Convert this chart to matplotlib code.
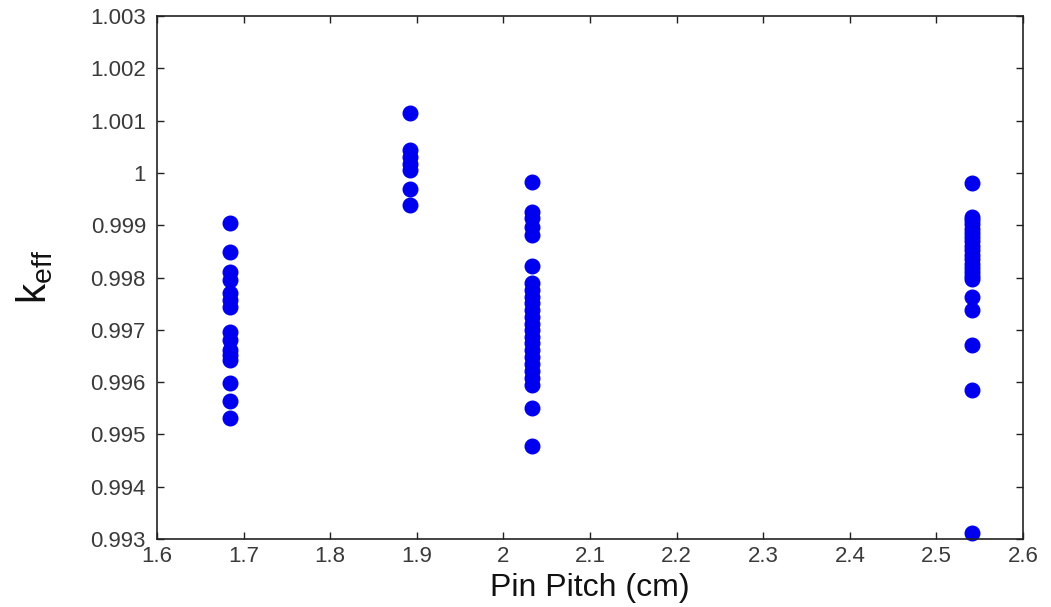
import matplotlib
matplotlib.use("Agg")
import matplotlib.pyplot as plt

plt.rcParams['font.family'] = ['Liberation Sans', 'DejaVu Sans']
plt.rcParams['mathtext.fontset'] = 'custom'
plt.rcParams['mathtext.rm'] = 'Liberation Sans'

pitch_a = 1.684
keff_a = [0.99905, 0.99849, 0.99811, 0.99795, 0.99770, 0.99757, 0.99744,
          0.99696, 0.99680, 0.99661, 0.99652, 0.99642, 0.99598, 0.99563, 0.99531]

pitch_b = 1.892
keff_b = [1.00114, 1.00044, 1.00031, 1.00018, 1.00006, 0.99970, 0.99939]

pitch_c = 2.033
keff_c = [0.99983, 0.99925, 0.99913, 0.99897, 0.99881, 0.99822,
          0.99789, 0.99776, 0.99763, 0.99751, 0.99738, 0.99725, 0.99712, 0.99700,
          0.99687, 0.99674, 0.99661, 0.99648, 0.99635, 0.99622, 0.99607, 0.99594,
          0.99550, 0.99477]

pitch_d = 2.541
keff_d = [0.99981, 0.99916, 0.99910, 0.99902, 0.99893, 0.99885, 0.99877, 0.99869,
          0.99860, 0.99852, 0.99843, 0.99835, 0.99826, 0.99818, 0.99810, 0.99803,
          0.99797, 0.99763, 0.99738, 0.99671, 0.99585, 0.99311]

xticks = [1.6, 1.7, 1.8, 1.9, 2.0, 2.1, 2.2, 2.3, 2.4, 2.5, 2.6]
xticklabels = ['1.6', '1.7', '1.8', '1.9', '2', '2.1', '2.2', '2.3', '2.4', '2.5', '2.6']
yticks = [0.993, 0.994, 0.995, 0.996, 0.997, 0.998, 0.999, 1.000, 1.001, 1.002, 1.003]
yticklabels = ['0.993', '0.994', '0.995', '0.996', '0.997', '0.998', '0.999', '1',
               '1.001', '1.002', '1.003']

fig = plt.figure(figsize=(10.51, 6.07), dpi=100)
ax = fig.add_axes([0.1494, 0.112, 0.824, 0.8616])

for p, ks in [(pitch_a, keff_a), (pitch_b, keff_b), (pitch_c, keff_c), (pitch_d, keff_d)]:
    ax.plot([p] * len(ks), ks, linestyle='none', marker='o', markersize=10.5,
            color='#0000ee', markeredgecolor='#0000ee', clip_on=False)

ax.set_xlim(1.6, 2.6)
ax.set_ylim(0.993, 1.003)
ax.set_xticks(xticks)
ax.set_xticklabels(xticklabels)
ax.set_yticks(yticks)
ax.set_yticklabels(yticklabels)
ax.tick_params(direction='in', length=5, width=1, top=True, right=True,
               labelsize=16, labelcolor='#3a3a3a', colors='#222222')
ax.tick_params(axis='y', pad=8)
ax.tick_params(axis='x', pad=5)
for s in ax.spines.values():
    s.set_linewidth(1.2)
    s.set_color('#222222')

ax.set_xlabel('Pin Pitch (cm)', fontsize=23, color='#111111', labelpad=4)
ax.set_ylabel(r'k$_{\rm eff}$', fontsize=29, color='#111111', labelpad=25)

fig.savefig('out.png', dpi=100)
